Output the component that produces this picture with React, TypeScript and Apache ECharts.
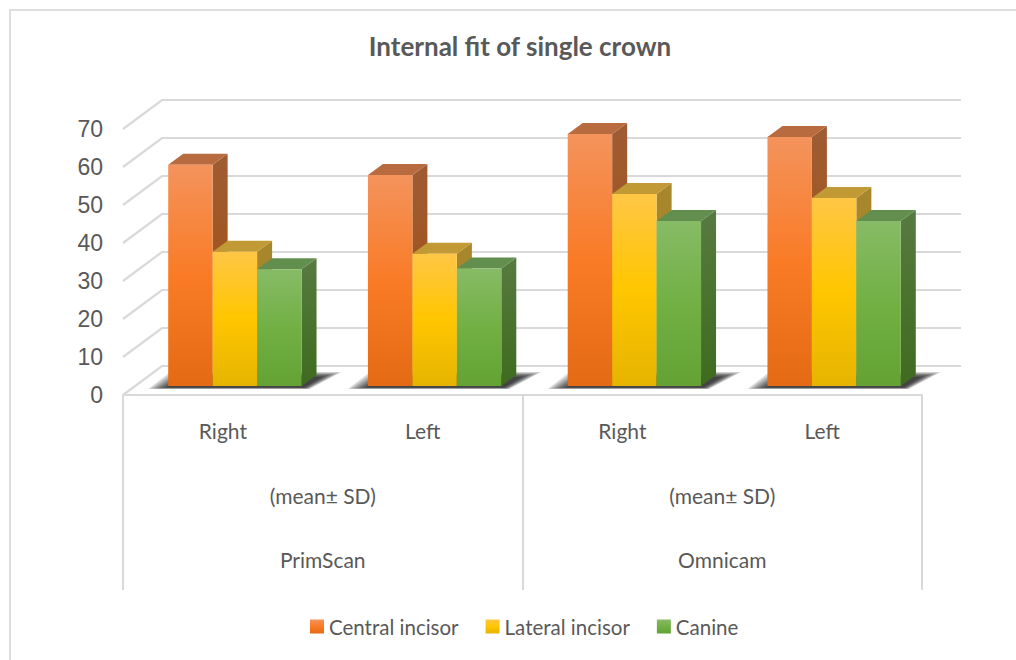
import React, { useEffect, useRef } from "react";
import * as echarts from "echarts";

const categories = ["Right", "Left", "Right", "Left"];
const measures = ["(mean± SD)", "(mean± SD)"];
const scanners = ["PrimScan", "Omnicam"];
const seriesNames = ["Central incisor", "Lateral incisor", "Canine"];
const centralIncisor = [58.2, 55.5, 66.3, 65.5];
const lateralIncisor = [35.3, 34.8, 50.5, 49.5];
const canine = [30.7, 30.9, 43.4, 43.4];
const yTicks = [0, 10, 20, 30, 40, 50, 60, 70];

const TEXT = "#595959";
const GRID = "#d9d9d9";
const FONT = "Lato, sans-serif";

const grad = (a: string, b: string, c: string) => ({
  type: "linear", x: 0, y: 0, x2: 0, y2: 1,
  colorStops: [{ offset: 0, color: a }, { offset: 0.5, color: b }, { offset: 1, color: c }],
});
const palette = [
  { front: grad("#f4935c", "#f97b26", "#e56a14"), side: grad("#9f5c33", "#a0551f", "#a0551f"), top: "#b96b40" },
  { front: grad("#ffc646", "#ffc600", "#e6b400"), side: grad("#a8862c", "#a8862c", "#a8862c"), top: "#c19a35" },
  { front: grad("#87bb66", "#72b044", "#63a233"), side: grad("#587a42", "#4a732e", "#3f6b20"), top: "#638f4e" },
];

const DX = 39, DY = 29;          // wall depth
const FX = 12, FY = 9;           // bar front plane, from the axis plane
const BX = 15, BY = 11;          // bar depth
const SHADOW_LAYERS = [0, 1, 2, 3, 4, 5, 6, 7];

export default function App() {
  const ref = useRef<HTMLDivElement>(null);
  useEffect(() => {
    document.body.style.margin = "0";
    const chart = echarts.init(ref.current!, undefined, { renderer: "svg" });

    const wallSeries = {
      type: "custom", silent: true, z: 1, xAxisIndex: 0, yAxisIndex: 0,
      data: yTicks.map((v) => [v]),
      renderItem: (_p: any, api: any) => {
        const [cx, y] = api.coord([0, api.value(0)]);
        const x0 = cx - api.size([1, 0])[0] / 2;
        return {
          type: "polyline", silent: true,
          shape: { points: [[x0, y], [x0 + DX, y - DY], [961, y - DY]] },
          style: { fill: "none", stroke: GRID, lineWidth: 2.2 },
        };
      },
    };

    const shadowSeries = {
      type: "custom", silent: true, z: 2, xAxisIndex: 0, yAxisIndex: 0,
      data: categories.map((_, i) => [i]),
      renderItem: (_p: any, api: any) => {
        const [cx, y] = api.coord([api.value(0), 0]);
        const bw = api.size([1, 0])[0] * 0.2225;
        const l = cx + FX - 1.5 * bw, r = cx + FX + 1.5 * bw, b = y - FY;
        return {
          type: "group",
          children: SHADOW_LAYERS.map((k) => ({
            type: "polygon", silent: true,
            shape: {
              points: [
                [l - 20 + 2.6 * k, b + 3 - 0.2 * k],
                [l + 2 + 2.6 * k, b - 14 + 0.7 * k],
                [r + 40 - 2.8 * k, b - 14 + 0.7 * k],
                [r + 8 - 0.8 * k, b + 3 - 0.2 * k],
              ],
            },
            style: { fill: "rgba(0,0,0,0.15)" },
          })),
        };
      },
    };

    const barSeries = seriesNames.map((name, s) => ({
      type: "custom", name, silent: true, z: 3 + s, xAxisIndex: 0, yAxisIndex: 0,
      itemStyle: { color: palette[s].front },
      data: [centralIncisor, lateralIncisor, canine][s].map((v, i) => [i, v]),
      renderItem: (_p: any, api: any) => {
        const i = api.value(0), v = api.value(1);
        const [cx, yTop] = api.coord([i, v]);
        const [, yBase] = api.coord([i, 0]);
        const bw = api.size([1, 0])[0] * 0.2225;
        const l = cx + FX - 1.5 * bw + s * bw, r = l + bw;
        const t = yTop - FY, b = yBase - FY;
        return {
          type: "group",
          children: [
            { type: "polygon", shape: { points: [[r, t], [r + BX, t - BY], [r + BX, b - BY], [r, b]] }, style: { fill: palette[s].side } },
            { type: "polygon", shape: { points: [[l, t], [l + BX, t - BY], [r + BX, t - BY], [r, t]] }, style: { fill: palette[s].top } },
            { type: "rect", shape: { x: l, y: t, width: bw, height: b - t }, style: { fill: palette[s].front } },
          ],
        };
      },
    }));

    const hiddenAxis = { show: true, position: "bottom", axisLine: { show: false }, axisTick: { show: false } };
    const lvl = { color: TEXT, fontFamily: FONT, fontSize: 21, interval: 0 };

    chart.setOption({
      animation: false,
      backgroundColor: "#fff",
      title: {
        text: "Internal fit of single crown", left: 515, top: 28, textAlign: "center",
        textStyle: { color: TEXT, fontFamily: FONT, fontSize: 26, fontWeight: "bold" },
      },
      legend: {
        data: seriesNames.map((name, s) => ({ name, icon: "rect", itemStyle: { color: palette[s].front } })),
        left: 305, top: 611, itemWidth: 14, itemHeight: 14, itemGap: 27, selectedMode: false,
        textStyle: { color: TEXT, fontFamily: FONT, fontSize: 20.5 },
      },
      grid: { left: 123, top: 129, width: 799, height: 266, containLabel: false },
      xAxis: [
        { ...hiddenAxis, type: "category", data: categories, axisLine: { show: true, lineStyle: { color: GRID, width: 2 } },
          axisLabel: { ...lvl, margin: 25 } },
        { ...hiddenAxis, type: "category", data: measures, offset: 0, axisLabel: { ...lvl, margin: 90 } },
        { ...hiddenAxis, type: "category", data: scanners, offset: 0, axisLabel: { ...lvl, margin: 154 } },
      ],
      yAxis: {
        type: "value", min: 0, max: 70, interval: 10,
        axisLine: { show: false }, axisTick: { show: false }, splitLine: { show: false },
        axisLabel: { color: TEXT, fontFamily: "Liberation Sans", fontSize: 23, margin: 20, padding: [0, 0, 4, 0] },
      },
      graphic: [
        ...[123, 523, 922].map((x) => ({
          type: "line", silent: true, z: 3,
          shape: { x1: x, y1: 395, x2: x, y2: 590 },
          style: { stroke: GRID, lineWidth: 2 },
        })),
        {
          type: "rect", silent: true, z: -1,
          shape: { x: 10, y: 10, width: 1100, height: 700 },
          style: { fill: "none", stroke: "#dedede", lineWidth: 2 },
        },
      ],
      series: [wallSeries, shadowSeries, ...barSeries],
    });
    return () => chart.dispose();
  }, []);
  return <div ref={ref} style={{ width: 1016, height: 660 }} />;
}
